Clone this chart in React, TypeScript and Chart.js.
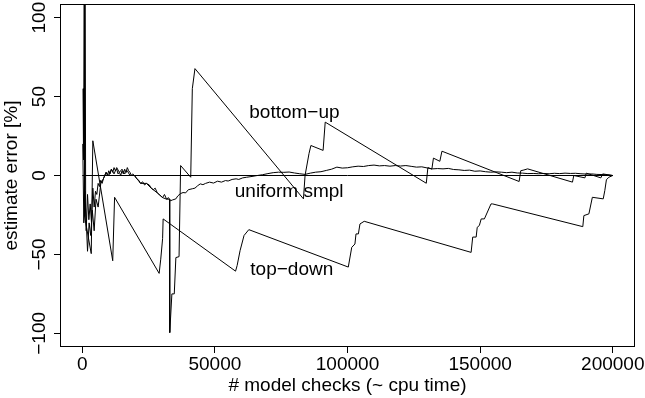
import React, { useEffect, useRef } from "react";
import { Chart, registerables } from "chart.js";

Chart.register(...registerables);

const FONT = '"Liberation Sans", Arial, Helvetica, sans-serif';

const xTicks = [0, 50000, 100000, 150000, 200000];
const yTicks = [-100, -50, 0, 50, 100];

const zeroX = [0, 200000];
const zeroY = [0, 0];

const bottomUpX = [300, 500, 1000, 1300, 2000, 2600, 3200, 3800, 4500, 5200, 6000, 7000, 8000, 9000, 10000, 11000, 12000, 13000, 14000, 15000, 16000, 17000, 18000, 19700, 22000, 24200, 26000, 28300, 30300, 31800, 32900, 33000, 33800, 34700, 35300, 36500, 37100, 40900, 41500, 42500, 83400, 84000, 85500, 86200, 90800, 91600, 129700, 130300, 131800, 132400, 134800, 135600, 164700, 165300, 166500, 167900, 184800, 185300, 189500, 190000, 195500, 196200, 200000];
const bottomUpY = [55, 10, 200, -20, -48, -30, -38, -22, -35, -15, -20, -5, -2, 2, 0, 4, 1, 5, 2, 4, 1, 3, 0, 0, -5, -5, -8, -11, -14, -15, -15, -99.5, -75, -75, -52, -51.4, 6.3, -1.1, 55, 67.7, -14.8, 0, 14, 19, 15.9, 33.8, -4.9, 5, 4, 11, 9, 15.4, -3.8, 3, 3.5, 4.2, -4.2, 0, -1.5, 1.5, -1.5, 1, 0];

const uniformX = [200, 600, 1000, 1500, 2000, 2500, 3000, 3500, 4000, 4500, 5000, 5500, 6000, 6500, 7000, 7500, 8000, 8500, 9000, 9500, 10000, 10500, 11000, 11500, 12000, 12500, 13000, 13500, 14000, 14500, 15000, 15500, 16000, 16500, 17000, 17500, 18000, 18500, 19000,
  19700, 20500, 21300, 22000, 22800, 23500, 24200, 25300, 26000, 26800, 27500, 28300, 29000, 30300, 31000, 31800, 32500, 33300, 34000, 35300, 36000, 37000, 38000, 39000, 40000,
  41500, 42500, 43500, 44500, 45500, 46500, 48000, 49500, 51000, 52500, 54000, 55000, 56500, 58000, 59000, 60500, 62000,
  64000, 66000, 68000, 70000, 72000, 74000, 76000, 78000, 80000, 82000, 84000, 86000, 88000, 90000, 92000, 94000, 96000, 98000, 100000, 102000, 104000, 106000, 108000, 110000, 112000, 114000, 116000, 118000, 120000, 122000, 124000, 126000, 128000, 130000, 132000, 134000, 136000, 138000, 140000, 142000, 144000, 146000, 148000, 150000, 152000, 154000, 156000, 158000, 160000, 162000, 164000, 166000, 168000, 170000, 172000, 174000, 176000, 178000, 180000, 182000, 184000, 186000, 188000, 190000, 192000, 194000, 196000, 198000, 200000];
const uniformY = [20, -30, -10, -35, -12, -28, -18, -30, -8, -20, -10, -12, -5, -7, -3, -5, -2, 0, 2, 0, 3, 1, 4, 2, 5, 3, 4, 1, 2, 0, 3, 1, 4, 2, 5, 3, 2, 0, 1,
  0, -2, -3, -5, -4, -6, -5, -6, -8, -9, -8, -11, -12, -14, -12, -15, -14, -16, -15.5, -14.8, -13, -11.5, -10.8, -11, -9,
  -8.4, -8, -6.5, -5.3, -5.8, -5, -4.2, -4.8, -3.6, -4.2, -3.2, -3.5, -2.5, -2.1, -2.5, -1.5, -1.1,
  -0.6, 0, 0.5, 1.2, 1.8, 2.1, 2.0, 2.2, 1.6, 1.1, 0.7, 1.5, 2.1, 2.4, 3.2, 4.0, 5.3, 4.7, 4.9, 5.5, 5.9, 5.7, 6.3, 6.6, 6.1, 6.3, 5.9, 6.3, 6.0, 6.3, 5.8, 5.3, 5.5, 4.8, 4.2, 4.4, 4.2, 4.5, 3.8, 3.6, 3.2, 3.4, 2.7, 2.9, 2.4, 2.1, 2.3, 2.1, 1.8, 2.1, 1.6, 1.5, 1.2, 1.3, 1.1, 1.3, 1.1, 1.4, 1.2, 1.5, 1.3, 1.4, 1.1, 0.9, 1.0, 0.7, 0.6, 0.4, 0];

const topDownX = [700, 900, 3400, 4000, 11500, 12200, 29000, 29600, 30300, 30500, 57800, 58400, 59500, 61000, 62800, 100300, 101600, 102800, 103200, 104100, 104700, 106300, 146600, 147200, 148500, 148900, 149700, 150400, 151600, 154100, 154700, 188700, 189100, 191000, 192300, 196400, 197000, 197600, 198500, 200000];
const topDownY = [150, -26, -49.5, 22, -54, -13.8, -62, -53, -40, -27.5, -60.6, -57, -47.6, -38, -34.3, -58, -45.5, -43.4, -37, -37, -30.7, -29, -48.7, -39, -39, -32.8, -31.7, -27.5, -27.5, -18, -18, -32.4, -25.4, -24.3, -13.8, -14.8, -9.5, -2.7, -1.1, 0];

const labelText = ["bottom\u2212up", "uniform smpl", "top\u2212down"];
const labelX = [80000, 78000, 79000];
const labelY = [40, -10, -60];

function zip(xs: number[], ys: number[]) {
  return xs.map((x, i) => ({ x, y: ys[i] }));
}

const boxPlugin = {
  id: "boxAndLabels",
  afterDatasetsDraw(chart: any) {
    const { ctx, chartArea, scales } = chart;
    ctx.save();
    ctx.strokeStyle = "#000";
    ctx.lineWidth = 1;
    ctx.strokeRect(
      Math.round(chartArea.left) - 0.5,
      Math.round(chartArea.top) - 0.5,
      Math.round(chartArea.right - chartArea.left) + 1,
      Math.round(chartArea.bottom - chartArea.top) + 1
    );
    ctx.fillStyle = "#000";
    ctx.font = `19px ${FONT}`;
    ctx.textAlign = "center";
    ctx.textBaseline = "middle";
    labelText.forEach((t, i) => {
      ctx.fillText(t, scales.x.getPixelForValue(labelX[i]), scales.y.getPixelForValue(labelY[i]));
    });
    ctx.restore();
  },
};

export default function App() {
  const ref = useRef<HTMLCanvasElement | null>(null);
  useEffect(() => {
    if (!ref.current) return;
    const line = (label: string, data: any[]) => ({
      label,
      data,
      borderColor: "#000",
      borderWidth: 1,
      pointRadius: 0,
      tension: 0,
      fill: false,
    });
    const chart = new Chart(ref.current, {
      type: "line",
      data: {
        datasets: [
          line("zero", zip(zeroX, zeroY)),
          line("uniform smpl", zip(uniformX, uniformY)),
          line("top-down", zip(topDownX, topDownY)),
          line("bottom-up", zip(bottomUpX, bottomUpY)),
        ],
      },
      options: {
        responsive: false,
        animation: false,
        events: [],
        layout: { padding: { left: 0, right: 11, top: 5, bottom: 0 } },
        plugins: { legend: { display: false }, tooltip: { enabled: false } },
        scales: {
          x: {
            type: "linear",
            min: -8000,
            max: 208000,
            afterBuildTicks: (s: any) => {
              s.ticks = xTicks.map((v) => ({ value: v }));
            },
            afterFit: (s: any) => {
              s.height = 52;
              s.paddingLeft = 0;
              s.paddingRight = 0;
            },
            grid: { drawOnChartArea: false, drawTicks: true, tickLength: 7, color: "#000", lineWidth: 1 },
            border: { display: false },
            ticks: {
              autoSkip: false,
              maxRotation: 0,
              padding: 0,
              color: "#000",
              font: { size: 19, family: FONT },
              callback: (v: any) => String(v),
            },
            title: {
              display: true,
              text: "# model checks (~ cpu time)",
              color: "#000",
              font: { size: 19, family: FONT },
              padding: { top: 0, bottom: 1 },
            },
          },
          y: {
            type: "linear",
            min: -108,
            max: 108,
            afterBuildTicks: (s: any) => {
              s.ticks = yTicks.map((v) => ({ value: v }));
            },
            afterFit: (s: any) => {
              s.width = 61;
              s.paddingTop = 0;
              s.paddingBottom = 0;
            },
            grid: { drawOnChartArea: false, drawTicks: true, tickLength: 7, color: "#000", lineWidth: 1 },
            border: { display: false },
            ticks: {
              minRotation: 90,
              maxRotation: 90,
              crossAlign: "center",
              padding: -7,
              color: "#000",
              font: { size: 19, family: FONT },
              callback: (v: any) => (v < 0 ? "\u2212" + Math.abs(v) : String(v)),
            },
            title: {
              display: true,
              text: "estimate error [%]",
              color: "#000",
              font: { size: 19, family: FONT },
              padding: { top: 0, bottom: 0 },
            },
          },
        },
      },
      plugins: [boxPlugin],
    } as any);
    return () => chart.destroy();
  }, []);
  return (
    <div style={{ position: "absolute", left: 0, top: 0, width: 645, height: 398 }}>
      <canvas ref={ref} width={645} height={398} style={{ display: "block" }} />
    </div>
  );
}
